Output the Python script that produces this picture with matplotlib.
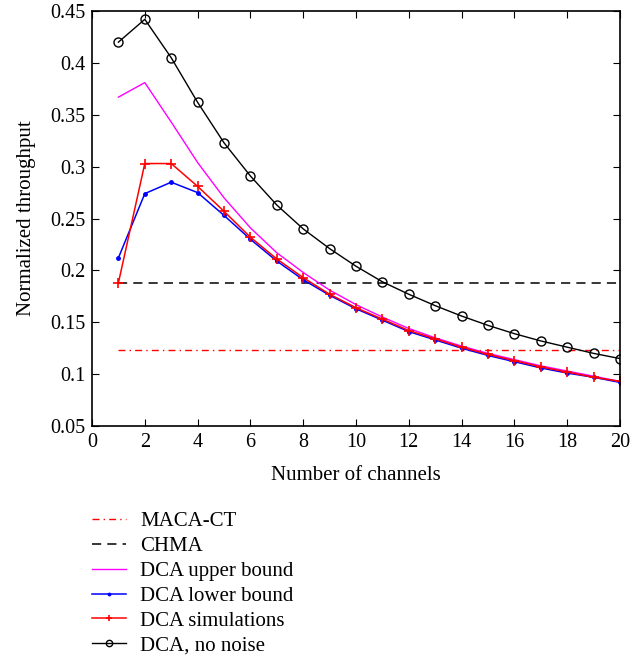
import matplotlib
matplotlib.use("Agg")
import matplotlib.pyplot as plt
import numpy as np

plt.rcParams["font.family"] = ["Liberation Serif", "DejaVu Serif"]

channels = np.arange(1, 21)
maca_ct = 0.123
chma = 0.188
dca_upper = [0.367, 0.381, 0.343, 0.304, 0.270, 0.241, 0.217, 0.198, 0.181, 0.167,
             0.155, 0.144, 0.135, 0.127, 0.120, 0.114, 0.108, 0.103, 0.098, 0.093]
dca_lower = [0.212, 0.274, 0.285, 0.275, 0.253, 0.230, 0.209, 0.191, 0.176, 0.163,
             0.152, 0.141, 0.133, 0.125, 0.118, 0.112, 0.106, 0.101, 0.097, 0.092]
dca_sim = [0.188, 0.303, 0.303, 0.281, 0.257, 0.232, 0.211, 0.193, 0.177, 0.164,
           0.153, 0.142, 0.134, 0.126, 0.119, 0.113, 0.107, 0.102, 0.097, 0.093]
dca_no_noise = [0.420, 0.442, 0.405, 0.362, 0.323, 0.291, 0.263, 0.240, 0.221, 0.204,
                0.189, 0.177, 0.166, 0.156, 0.147, 0.139, 0.132, 0.126, 0.120, 0.115]

fig = plt.figure(figsize=(6.42, 6.56), dpi=100)
ax = fig.add_axes([0.1433, 0.3506, 0.8224, 0.6326])

ax.plot(channels, [maca_ct] * len(channels), color="red", linestyle=(0, (5, 3, 1, 3)), lw=1, label="MACA-CT")
ax.plot(channels, [chma] * len(channels), color="black", linestyle=(0, (6, 4)), lw=1.1, label="CHMA")
ax.plot(channels, dca_upper, color="magenta", lw=1, label="DCA upper bound")
ax.plot(channels, dca_lower, color="blue", lw=1.1, marker=".", ms=5, label="DCA lower bound")
ax.plot(channels, dca_sim, color="red", lw=1.1, marker="+", ms=7, mew=1.2, label="DCA simulations")
ax.plot(channels, dca_no_noise, color="black", lw=1, marker="o", ms=6.5, mfc="none", label="DCA, no noise")

ax.set_xlim(0, 20)
ax.set_ylim(0.05, 0.45)
ax.set_xticks(range(0, 21, 2))
ax.set_yticks(np.arange(0.05, 0.451, 0.05))
ax.set_yticklabels(["0.05", "0.1", "0.15", "0.2", "0.25", "0.3", "0.35", "0.4", "0.45"])
ax.tick_params(direction="in", top=True, right=True, labelsize=14.5, length=5, pad=5)
for sp in ax.spines.values():
    sp.set_linewidth(1.2)
ax.set_xlabel("Number of channels", fontsize=15, labelpad=10)
ax.set_ylabel("Normalized throughput", fontsize=15, labelpad=10)

ax.legend(loc="upper left", bbox_to_anchor=(0.0, -0.207), frameon=False, fontsize=15,
          handlelength=1.65, labelspacing=0.25, handletextpad=0.65, borderaxespad=0,
          borderpad=0, markerscale=0.7)

fig.savefig("out.png", dpi=100)
